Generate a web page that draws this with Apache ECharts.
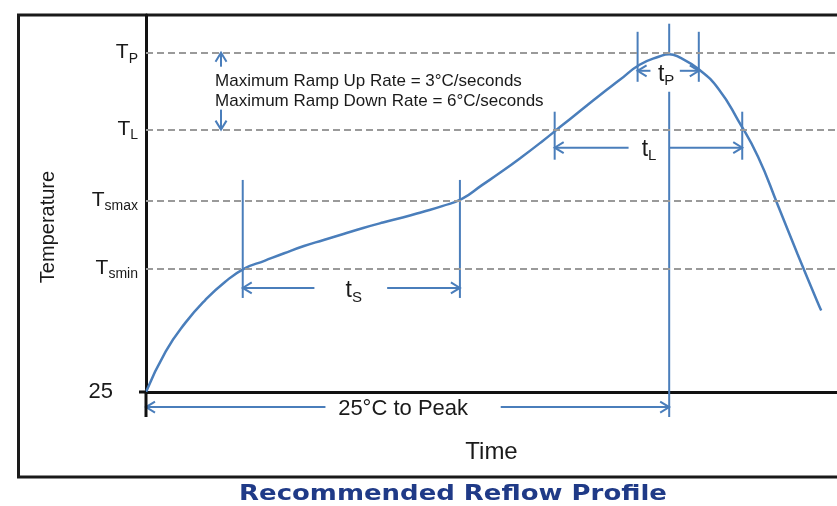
<!DOCTYPE html>
<html><head><meta charset="utf-8">
<script src="https://cdn.jsdelivr.net/npm/echarts@6/dist/echarts.min.js"></script>
<style>html,body{margin:0;padding:0;background:#fff}#c{width:837px;height:506px}</style>
</head><body><div id="c"></div><script>
// ---- data ----
const ambient = 25;
const levelSubs = ['P', 'L', 'smax', 'smin'];          // T_P, T_L, T_smax, T_smin
const levelValues = [250, 199, 152, 107];
const timeValues = [0, 10, 20, 30, 40, 50, 60, 70, 80, 90, 100, 110, 120, 130, 140, 150, 160, 170, 180, 190, 200, 210, 220, 230, 240, 250, 260, 265, 270, 280, 290, 300, 310, 320, 330, 340, 342];
const tempValues = [25, 52, 71, 86, 98, 107, 112, 117, 121.8, 125.8, 129.8, 133.8, 137.4, 140.7, 144.4, 148.3, 153, 162, 171, 180.5, 190.5, 201, 211.5, 222, 232, 242, 247.5, 249, 247, 239, 226, 205, 181, 149, 116.5, 85, 79];
const spanSubs = ['S', 'L', 'P'];                       // t_S, t_L, t_P
const spanStart = [49, 207, 249];
const spanEnd = [159, 302, 280];
const peakTime = 265;
const peakSpanText = '25°C to Peak';
const rampText = ['Maximum Ramp Up Rate = 3°C/seconds', 'Maximum Ramp Down Rate = 6°C/seconds'];
const rampArrowTime = 38;
const rampTextTime = 35;

// ---- style ----
const BLUE = '#4A7EBB';
const INK = '#1a1a1a';
const FONT = '"Liberation Sans", Arial, sans-serif';
const peakTemp = Math.max.apply(null, tempValues);

const spanLayout = [
  { arrowTemp: 94,  up: 108, down: 10, gapA: 0.33,  gapB: 0.665, dx: 3,   dy: 3 },
  { arrowTemp: 187, up: 36,  down: 12, gapA: 0.394, gapB: 0.612, dx: 0,   dy: 2 },
  { arrowTemp: 238, up: 39,  down: 11, gapA: 0.21,  gapB: 0.69,  dx: 1,   dy: 4 },
  { arrowTemp: 15,  up: 0,   down: 0,  gapA: 0.343, gapB: 0.678, dx: -10, dy: 2, noTicks: true }
];
const spanRich = {
  t: { fontSize: 23, fontFamily: FONT, fill: INK, lineHeight: 28 },
  s: { fontSize: 15, fontFamily: FONT, fill: INK, verticalAlign: 'bottom', lineHeight: 16 },
  p: { fontSize: 22, fontFamily: FONT, fill: INK }
};
const spanTexts = spanSubs.map(s => '{t|t}{s|' + s + '}').concat(['{p|' + peakSpanText + '}']);

function chevH(x, y, dir) { return [[x - dir * 9, y - 5.5], [x, y], [x - dir * 9, y + 5.5]]; }
function chevV(x, y, dir) { return [[x - 5.5, y - dir * 9], [x, y], [x + 5.5, y - dir * 9]]; }
const LS = { stroke: BLUE, lineWidth: 2, fill: 'none' };

function renderSpan(params, api) {
  const i = params.dataIndex;
  const c = spanLayout[i];
  const p1 = api.coord([api.value(0), c.arrowTemp]);
  const p2 = api.coord([api.value(1), c.arrowTemp]);
  const y = p1[1], x1 = p1[0], x2 = p2[0], w = x2 - x1;
  const ga = x1 + w * c.gapA, gb = x1 + w * c.gapB;
  const ch = [
    { type: 'line', shape: { x1: x1, y1: y, x2: ga, y2: y }, style: LS },
    { type: 'line', shape: { x1: gb, y1: y, x2: x2, y2: y }, style: LS },
    { type: 'polyline', shape: { points: chevH(x1, y, -1) }, style: LS },
    { type: 'polyline', shape: { points: chevH(x2, y, 1) }, style: LS },
    { type: 'text', style: { text: spanTexts[i], x: (ga + gb) / 2 + c.dx, y: y + c.dy, align: 'center', verticalAlign: 'middle', rich: spanRich, fill: INK, font: '22px ' + FONT } }
  ];
  if (!c.noTicks) {
    ch.push({ type: 'line', shape: { x1: x1, y1: y - c.up, x2: x1, y2: y + c.down }, style: LS });
    ch.push({ type: 'line', shape: { x1: x2, y1: y - c.up, x2: x2, y2: y + c.down }, style: LS });
  }
  return { type: 'group', children: ch };
}

function renderExtras(params, api) {
  const pk = api.coord([api.value(0), api.value(1)]);
  const tpY = api.coord([0, levelValues[0]])[1];
  const tlY = api.coord([0, levelValues[1]])[1];
  const o = api.coord([0, ambient]);
  const tpArrowY = api.coord([0, spanLayout[2].arrowTemp])[1];
  const ax = api.coord([rampArrowTime, ambient])[0];
  const tx = api.coord([rampTextTime, ambient])[0];
  const AX = { stroke: '#111', lineWidth: 3 };
  return { type: 'group', children: [
    { type: 'line', shape: { x1: pk[0], y1: tpY - 29, x2: pk[0], y2: pk[1] }, style: LS },
    { type: 'line', shape: { x1: pk[0], y1: tpArrowY + 21, x2: pk[0], y2: o[1] + 25 }, style: LS },
    { type: 'line', shape: { x1: o[0] - 7, y1: o[1], x2: o[0], y2: o[1] }, style: AX },
    { type: 'line', shape: { x1: o[0], y1: o[1], x2: o[0], y2: o[1] + 25 }, style: AX },
    { type: 'line', shape: { x1: ax, y1: tpY, x2: ax, y2: tpY + 14 }, style: LS },
    { type: 'polyline', shape: { points: chevV(ax, tpY, -1) }, style: LS },
    { type: 'line', shape: { x1: ax, y1: tlY - 20, x2: ax, y2: tlY }, style: LS },
    { type: 'polyline', shape: { points: chevV(ax, tlY, 1) }, style: LS },
    { type: 'text', style: { text: rampText.join('\n'), x: tx, y: (tpY + tlY) / 2, align: 'left', verticalAlign: 'middle', fill: INK, font: '17px ' + FONT, lineHeight: 20 } }
  ] };
}

const chart = echarts.init(document.getElementById('c'), null, { renderer: 'canvas' });
chart.setOption({
  animation: false,
  textStyle: { fontFamily: FONT },
  graphic: [
    { type: 'rect', z: 0, shape: { x: 18.5, y: 15, width: 840, height: 462 }, style: { fill: 'none', stroke: INK, lineWidth: 3 } },
    { type: 'text', z: 10, x: 453, y: 494, scaleX: 1.18, style: { text: 'Recommended Reflow Profile', fill: '#1F3A87', font: 'bold 22px "DejaVu Sans", sans-serif', align: 'center', verticalAlign: 'middle' } }
  ],
  grid: { left: 146, right: -2, top: 15, bottom: 114, containLabel: false },
  xAxis: {
    type: 'value', min: 0, max: 350,
    axisLine: { show: true, onZero: false, lineStyle: { color: '#111', width: 3 } },
    axisTick: { show: false }, axisLabel: { show: false }, splitLine: { show: false },
    name: 'Time', nameLocation: 'middle', nameGap: 48,
    nameTextStyle: { fontSize: 24, color: INK, fontFamily: FONT }
  },
  yAxis: {
    type: 'value', min: ambient, max: 275,
    axisLine: { show: true, onZero: false, lineStyle: { color: '#111', width: 3 } },
    axisTick: { show: false }, splitLine: { show: false },
    axisLabel: {
      margin: 8,
      customValues: [ambient].concat(levelValues),
      formatter: function (v) {
        if (v === ambient) return '{n|' + ambient + '}';
        const i = levelValues.indexOf(v);
        return i < 0 ? '' : '{t|T}{s|' + levelSubs[i] + '}';
      },
      rich: {
        n: { fontSize: 22, color: INK, fontFamily: FONT, padding: [0, 25, 0, 0] },
        t: { fontSize: 21, color: INK, fontFamily: FONT, lineHeight: 26 },
        s: { fontSize: 14, color: INK, fontFamily: FONT, verticalAlign: 'bottom', lineHeight: 15 }
      }
    },
    name: 'Temperature', nameLocation: 'middle', nameGap: 88, nameRotate: 90,
    nameTextStyle: { fontSize: 20, color: INK, fontFamily: FONT, padding: [0, 47, 0, 0] }
  },
  series: [
    {
      type: 'line', data: [], z: 1, silent: true,
      markLine: {
        silent: true, symbol: ['none', 'none'], label: { show: false },
        lineStyle: { color: '#9a9a9a', type: [7, 4], width: 2 },
        data: levelValues.map(v => ({ yAxis: v }))
      }
    },
    {
      type: 'line', z: 3, smooth: 0.5, showSymbol: false, silent: true,
      lineStyle: { color: BLUE, width: 2.5 },
      data: timeValues.map((t, i) => [t, tempValues[i]])
    },
    {
      type: 'custom', z: 4, clip: false, silent: true,
      renderItem: renderSpan,
      data: spanStart.map((s, i) => [s, spanEnd[i]]).concat([[timeValues[0], peakTime]])
    },
    {
      type: 'custom', z: 4, clip: false, silent: true,
      renderItem: renderExtras,
      data: [[peakTime, peakTemp]]
    }
  ]
});
</script></body></html>
